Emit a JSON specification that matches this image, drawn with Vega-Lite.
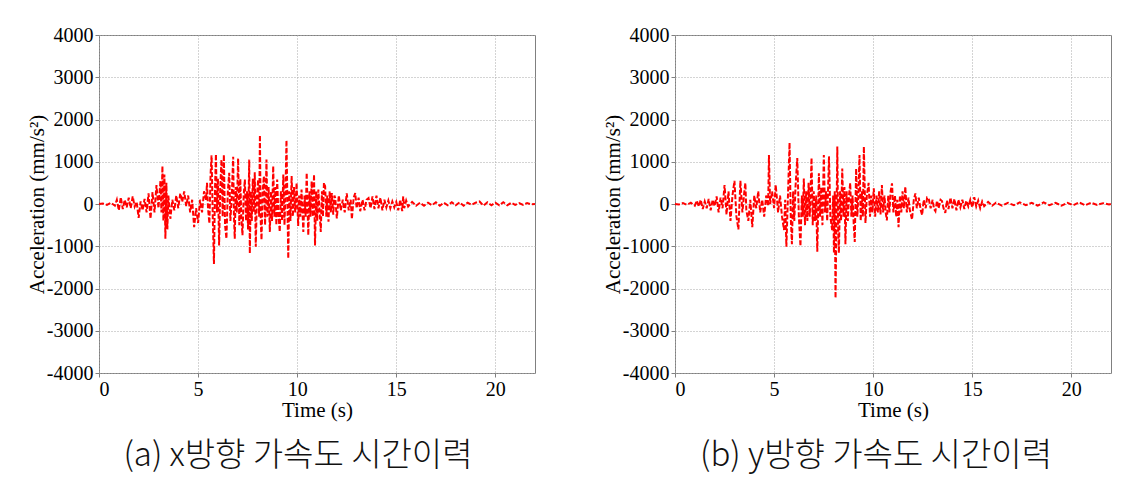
{
  "$schema": "https://vega.github.io/schema/vega-lite/v6.json",
  "background": "white",
  "padding": {"left": 25, "top": 24, "right": 10, "bottom": 5},
  "spacing": 140,
  "bounds": "flush",
  "config": {
    "view": {"stroke": "#808080", "strokeWidth": 1},
    "axis": {
      "labelFont": "Liberation Serif", "labelFontSize": 20, "labelColor": "#000",
      "titleFont": "Liberation Serif", "titleFontSize": 21, "titleFontWeight": "normal", "titleColor": "#000",
      "domain": false, "tickColor": "#808080", "tickSize": 4,
      "gridColor": "#a8a8a8", "gridDash": [1, 2], "gridOpacity": 1, "labelPadding": 2
    },
    "axisY": {"titleX": -52, "titleBaseline": "bottom"},
    "axisX": {"titlePadding": 0},
    "title": {"font": "Noto Sans CJK KR", "fontSize": 33, "fontWeight": 300, "color": "#111"}
  },
  "datasets": {
    "x": [
      {"t":0.0,"a":0},{"t":0.2,"a":10},{"t":0.4,"a":-20},{"t":0.6,"a":30},{"t":0.8,"a":-40},{"t":0.9,"a":100},{"t":1.0,"a":-150},{"t":1.1,"a":160},{"t":1.2,"a":-120},{"t":1.3,"a":100},{"t":1.4,"a":-80},{"t":1.5,"a":150},{"t":1.6,"a":-100},{"t":1.7,"a":180},{"t":1.8,"a":-60},{"t":1.9,"a":50},{"t":2.0,"a":-330},{"t":2.1,"a":60},{"t":2.2,"a":-150},{"t":2.3,"a":120},{"t":2.4,"a":-200},{"t":2.5,"a":250},{"t":2.6,"a":-350},{"t":2.7,"a":280},{"t":2.8,"a":-200},{"t":2.9,"a":450},{"t":3.0,"a":-100},{"t":3.1,"a":550},{"t":3.15,"a":-200},{"t":3.2,"a":900},{"t":3.25,"a":-400},{"t":3.3,"a":700},{"t":3.35,"a":-820},{"t":3.4,"a":500},{"t":3.45,"a":-600},{"t":3.5,"a":200},{"t":3.6,"a":-350},{"t":3.7,"a":100},{"t":3.8,"a":-150},{"t":3.9,"a":200},{"t":4.0,"a":-100},{"t":4.1,"a":250},{"t":4.2,"a":50},{"t":4.3,"a":300},{"t":4.4,"a":-50},{"t":4.5,"a":200},{"t":4.6,"a":-200},{"t":4.7,"a":100},{"t":4.8,"a":-550},{"t":4.9,"a":-100},{"t":5.0,"a":-450},{"t":5.1,"a":100},{"t":5.2,"a":-200},{"t":5.3,"a":300},{"t":5.4,"a":100},{"t":5.45,"a":500},{"t":5.5,"a":-100},{"t":5.57,"a":-460},{"t":5.63,"a":700},{"t":5.68,"a":1150},{"t":5.74,"a":-300},{"t":5.8,"a":-1420},{"t":5.85,"a":300},{"t":5.9,"a":1180},{"t":5.95,"a":-200},{"t":6.0,"a":600},{"t":6.06,"a":-980},{"t":6.12,"a":400},{"t":6.18,"a":1050},{"t":6.24,"a":-300},{"t":6.3,"a":1170},{"t":6.36,"a":-500},{"t":6.43,"a":-820},{"t":6.5,"a":300},{"t":6.57,"a":740},{"t":6.63,"a":-400},{"t":6.7,"a":200},{"t":6.77,"a":1120},{"t":6.81,"a":-300},{"t":6.85,"a":-820},{"t":6.9,"a":400},{"t":6.95,"a":-200},{"t":7.02,"a":1080},{"t":7.08,"a":-500},{"t":7.13,"a":600},{"t":7.18,"a":-300},{"t":7.24,"a":-740},{"t":7.3,"a":200},{"t":7.36,"a":580},{"t":7.42,"a":-400},{"t":7.47,"a":300},{"t":7.52,"a":-600},{"t":7.58,"a":1050},{"t":7.61,"a":-1170},{"t":7.66,"a":300},{"t":7.71,"a":-400},{"t":7.76,"a":600},{"t":7.81,"a":-200},{"t":7.86,"a":750},{"t":7.91,"a":-1010},{"t":7.97,"a":200},{"t":8.03,"a":580},{"t":8.08,"a":-300},{"t":8.12,"a":1630},{"t":8.16,"a":-400},{"t":8.2,"a":-850},{"t":8.26,"a":300},{"t":8.32,"a":660},{"t":8.38,"a":-500},{"t":8.45,"a":1050},{"t":8.5,"a":-300},{"t":8.56,"a":400},{"t":8.62,"a":-660},{"t":8.68,"a":300},{"t":8.73,"a":-400},{"t":8.79,"a":900},{"t":8.85,"a":-300},{"t":8.9,"a":400},{"t":8.95,"a":-500},{"t":8.99,"a":580},{"t":9.05,"a":-200},{"t":9.12,"a":-660},{"t":9.18,"a":300},{"t":9.24,"a":-400},{"t":9.3,"a":700},{"t":9.36,"a":-500},{"t":9.41,"a":300},{"t":9.46,"a":1510},{"t":9.55,"a":-1290},{"t":9.6,"a":300},{"t":9.66,"a":-400},{"t":9.72,"a":660},{"t":9.78,"a":-300},{"t":9.84,"a":400},{"t":9.9,"a":-200},{"t":9.97,"a":500},{"t":10.05,"a":-520},{"t":10.1,"a":200},{"t":10.16,"a":-300},{"t":10.22,"a":340},{"t":10.31,"a":-660},{"t":10.37,"a":200},{"t":10.43,"a":-300},{"t":10.48,"a":740},{"t":10.56,"a":-740},{"t":10.62,"a":300},{"t":10.67,"a":-300},{"t":10.73,"a":540},{"t":10.79,"a":-300},{"t":10.85,"a":700},{"t":10.9,"a":-980},{"t":10.96,"a":300},{"t":11.01,"a":-400},{"t":11.07,"a":340},{"t":11.13,"a":-200},{"t":11.19,"a":-660},{"t":11.25,"a":300},{"t":11.3,"a":-300},{"t":11.35,"a":500},{"t":11.41,"a":420},{"t":11.47,"a":-300},{"t":11.52,"a":200},{"t":11.58,"a":-420},{"t":11.64,"a":300},{"t":11.7,"a":-200},{"t":11.75,"a":260},{"t":11.82,"a":-250},{"t":11.88,"a":200},{"t":11.92,"a":140},{"t":12.0,"a":-340},{"t":12.1,"a":200},{"t":12.2,"a":-150},{"t":12.3,"a":100},{"t":12.4,"a":-200},{"t":12.5,"a":250},{"t":12.6,"a":-150},{"t":12.7,"a":100},{"t":12.76,"a":-360},{"t":12.85,"a":150},{"t":12.93,"a":260},{"t":13.0,"a":-100},{"t":13.1,"a":150},{"t":13.18,"a":-170},{"t":13.3,"a":100},{"t":13.4,"a":-150},{"t":13.5,"a":100},{"t":13.6,"a":140},{"t":13.7,"a":-100},{"t":13.8,"a":180},{"t":13.9,"a":-120},{"t":14.0,"a":200},{"t":14.1,"a":-100},{"t":14.2,"a":150},{"t":14.3,"a":-150},{"t":14.4,"a":100},{"t":14.5,"a":-80},{"t":14.6,"a":80},{"t":14.7,"a":-100},{"t":14.8,"a":60},{"t":14.9,"a":-80},{"t":15.0,"a":50},{"t":15.1,"a":-150},{"t":15.2,"a":100},{"t":15.3,"a":-170},{"t":15.35,"a":180},{"t":15.4,"a":-100},{"t":15.5,"a":80},{"t":15.6,"a":-60},{"t":15.8,"a":50},{"t":16.0,"a":-40},{"t":16.2,"a":30},{"t":16.4,"a":-40},{"t":16.6,"a":30},{"t":16.8,"a":-30},{"t":17.0,"a":40},{"t":17.2,"a":-40},{"t":17.4,"a":30},{"t":17.6,"a":-30},{"t":17.8,"a":40},{"t":18.0,"a":-30},{"t":18.2,"a":40},{"t":18.4,"a":-40},{"t":18.6,"a":30},{"t":18.8,"a":-20},{"t":19.0,"a":30},{"t":19.2,"a":60},{"t":19.4,"a":-40},{"t":19.6,"a":40},{"t":19.8,"a":-30},{"t":20.0,"a":30},{"t":20.2,"a":-30},{"t":20.4,"a":40},{"t":20.6,"a":-30},{"t":20.8,"a":30},{"t":21.0,"a":-20},{"t":21.2,"a":20},{"t":21.4,"a":-20},{"t":21.6,"a":20},{"t":21.8,"a":-10},{"t":22.0,"a":0}
    ],
    "y": [
      {"t":0.0,"a":0},{"t":0.2,"a":-10},{"t":0.4,"a":20},{"t":0.6,"a":-20},{"t":0.8,"a":30},{"t":1.0,"a":-40},{"t":1.1,"a":80},{"t":1.2,"a":-60},{"t":1.3,"a":100},{"t":1.4,"a":-120},{"t":1.5,"a":60},{"t":1.6,"a":-100},{"t":1.7,"a":120},{"t":1.8,"a":-150},{"t":1.9,"a":100},{"t":2.0,"a":-50},{"t":2.1,"a":180},{"t":2.2,"a":-200},{"t":2.3,"a":150},{"t":2.4,"a":-100},{"t":2.5,"a":450},{"t":2.6,"a":-250},{"t":2.7,"a":300},{"t":2.8,"a":-400},{"t":2.9,"a":200},{"t":3.0,"a":550},{"t":3.1,"a":-300},{"t":3.2,"a":-600},{"t":3.3,"a":550},{"t":3.4,"a":-200},{"t":3.5,"a":300},{"t":3.55,"a":500},{"t":3.6,"a":-150},{"t":3.7,"a":-400},{"t":3.8,"a":100},{"t":3.9,"a":-550},{"t":4.0,"a":200},{"t":4.1,"a":-100},{"t":4.2,"a":300},{"t":4.3,"a":-200},{"t":4.4,"a":100},{"t":4.5,"a":-300},{"t":4.6,"a":200},{"t":4.7,"a":-50},{"t":4.74,"a":1160},{"t":4.8,"a":0},{"t":4.9,"a":300},{"t":5.0,"a":-100},{"t":5.08,"a":450},{"t":5.15,"a":100},{"t":5.2,"a":-200},{"t":5.3,"a":200},{"t":5.4,"a":-300},{"t":5.5,"a":-615},{"t":5.56,"a":100},{"t":5.62,"a":-1010},{"t":5.7,"a":200},{"t":5.78,"a":1450},{"t":5.84,"a":-300},{"t":5.9,"a":-950},{"t":5.96,"a":300},{"t":6.02,"a":-400},{"t":6.08,"a":400},{"t":6.17,"a":1090},{"t":6.25,"a":-300},{"t":6.33,"a":-1000},{"t":6.4,"a":200},{"t":6.45,"a":-300},{"t":6.5,"a":600},{"t":6.56,"a":-500},{"t":6.62,"a":300},{"t":6.68,"a":-400},{"t":6.74,"a":500},{"t":6.8,"a":-300},{"t":6.89,"a":1090},{"t":6.95,"a":-500},{"t":7.0,"a":300},{"t":7.06,"a":-400},{"t":7.12,"a":200},{"t":7.18,"a":-1130},{"t":7.26,"a":730},{"t":7.32,"a":-300},{"t":7.38,"a":400},{"t":7.44,"a":-500},{"t":7.51,"a":1160},{"t":7.57,"a":-200},{"t":7.62,"a":300},{"t":7.68,"a":-400},{"t":7.77,"a":1130},{"t":7.84,"a":-300},{"t":7.93,"a":-620},{"t":7.98,"a":200},{"t":8.02,"a":-1160},{"t":8.06,"a":300},{"t":8.1,"a":-2230},{"t":8.15,"a":-300},{"t":8.19,"a":1360},{"t":8.23,"a":-500},{"t":8.27,"a":-1160},{"t":8.33,"a":300},{"t":8.38,"a":-400},{"t":8.44,"a":840},{"t":8.5,"a":-300},{"t":8.55,"a":400},{"t":8.6,"a":-950},{"t":8.66,"a":300},{"t":8.72,"a":-400},{"t":8.78,"a":200},{"t":8.84,"a":500},{"t":8.9,"a":-300},{"t":8.96,"a":200},{"t":9.02,"a":-500},{"t":9.07,"a":-900},{"t":9.14,"a":840},{"t":9.2,"a":-300},{"t":9.25,"a":200},{"t":9.31,"a":1160},{"t":9.37,"a":-400},{"t":9.43,"a":300},{"t":9.48,"a":-300},{"t":9.53,"a":1360},{"t":9.61,"a":-450},{"t":9.68,"a":200},{"t":9.77,"a":500},{"t":9.84,"a":-300},{"t":9.9,"a":200},{"t":9.96,"a":-200},{"t":10.03,"a":370},{"t":10.1,"a":-300},{"t":10.17,"a":200},{"t":10.24,"a":-200},{"t":10.3,"a":300},{"t":10.37,"a":-250},{"t":10.44,"a":450},{"t":10.5,"a":-200},{"t":10.57,"a":200},{"t":10.63,"a":-200},{"t":10.69,"a":-390},{"t":10.76,"a":200},{"t":10.82,"a":-200},{"t":10.88,"a":300},{"t":10.95,"a":490},{"t":11.02,"a":-200},{"t":11.1,"a":200},{"t":11.16,"a":-300},{"t":11.22,"a":100},{"t":11.28,"a":-550},{"t":11.35,"a":200},{"t":11.42,"a":-200},{"t":11.48,"a":300},{"t":11.55,"a":-100},{"t":11.62,"a":410},{"t":11.7,"a":-200},{"t":11.78,"a":150},{"t":11.85,"a":-150},{"t":11.96,"a":-370},{"t":12.05,"a":100},{"t":12.13,"a":250},{"t":12.2,"a":-100},{"t":12.3,"a":150},{"t":12.4,"a":-150},{"t":12.47,"a":-260},{"t":12.55,"a":100},{"t":12.65,"a":-100},{"t":12.72,"a":150},{"t":12.8,"a":130},{"t":12.9,"a":-100},{"t":13.0,"a":100},{"t":13.07,"a":-120},{"t":13.14,"a":-170},{"t":13.22,"a":80},{"t":13.3,"a":-100},{"t":13.4,"a":100},{"t":13.47,"a":70},{"t":13.55,"a":-100},{"t":13.64,"a":-210},{"t":13.72,"a":80},{"t":13.8,"a":-120},{"t":13.9,"a":150},{"t":14.0,"a":-100},{"t":14.1,"a":120},{"t":14.2,"a":-150},{"t":14.3,"a":100},{"t":14.4,"a":-80},{"t":14.5,"a":100},{"t":14.6,"a":-120},{"t":14.7,"a":80},{"t":14.8,"a":-60},{"t":14.9,"a":100},{"t":15.0,"a":-80},{"t":15.1,"a":160},{"t":15.2,"a":-60},{"t":15.3,"a":80},{"t":15.4,"a":-100},{"t":15.5,"a":60},{"t":15.6,"a":-50},{"t":15.8,"a":50},{"t":16.0,"a":-40},{"t":16.2,"a":30},{"t":16.5,"a":-40},{"t":16.8,"a":30},{"t":17.1,"a":-30},{"t":17.4,"a":40},{"t":17.7,"a":-30},{"t":18.0,"a":30},{"t":18.3,"a":-40},{"t":18.6,"a":40},{"t":18.9,"a":-30},{"t":19.2,"a":30},{"t":19.5,"a":-40},{"t":19.8,"a":30},{"t":20.1,"a":-30},{"t":20.4,"a":40},{"t":20.7,"a":-30},{"t":21.0,"a":30},{"t":21.3,"a":-20},{"t":21.6,"a":20},{"t":21.9,"a":-10},{"t":22.0,"a":0}
    ]
  },
  "hconcat": [
    {
      "width": 436, "height": 338,
      "data": {"name": "x"},
      "title": {"text": "(a) x방향 가속도 시간이력", "orient": "bottom", "anchor": "middle", "frame": "group", "dx": -19, "offset": 20},
      "mark": {"type": "line", "color": "#ff0000", "strokeDash": [5, 2], "strokeWidth": 2},
      "encoding": {
        "x": {"field": "t", "type": "quantitative", "scale": {"domain": [0, 22], "nice": false}, "axis": {"values": [0, 5, 10, 15, 20], "title": "Time (s)"}},
        "y": {"field": "a", "type": "quantitative", "scale": {"domain": [-4000, 4000], "nice": false}, "axis": {"values": [-4000, -3000, -2000, -1000, 0, 1000, 2000, 3000, 4000], "labelExpr": "'' + datum.value", "title": "Acceleration (mm/s²)"}}
      }
    },
    {
      "width": 436, "height": 338,
      "data": {"name": "y"},
      "title": {"text": "(b) y방향 가속도 시간이력", "orient": "bottom", "anchor": "middle", "frame": "group", "dx": -17, "offset": 20},
      "mark": {"type": "line", "color": "#ff0000", "strokeDash": [5, 2], "strokeWidth": 2},
      "encoding": {
        "x": {"field": "t", "type": "quantitative", "scale": {"domain": [0, 22], "nice": false}, "axis": {"values": [0, 5, 10, 15, 20], "title": "Time (s)"}},
        "y": {"field": "a", "type": "quantitative", "scale": {"domain": [-4000, 4000], "nice": false}, "axis": {"values": [-4000, -3000, -2000, -1000, 0, 1000, 2000, 3000, 4000], "labelExpr": "'' + datum.value", "title": "Acceleration (mm/s²)"}}
      }
    }
  ]
}
